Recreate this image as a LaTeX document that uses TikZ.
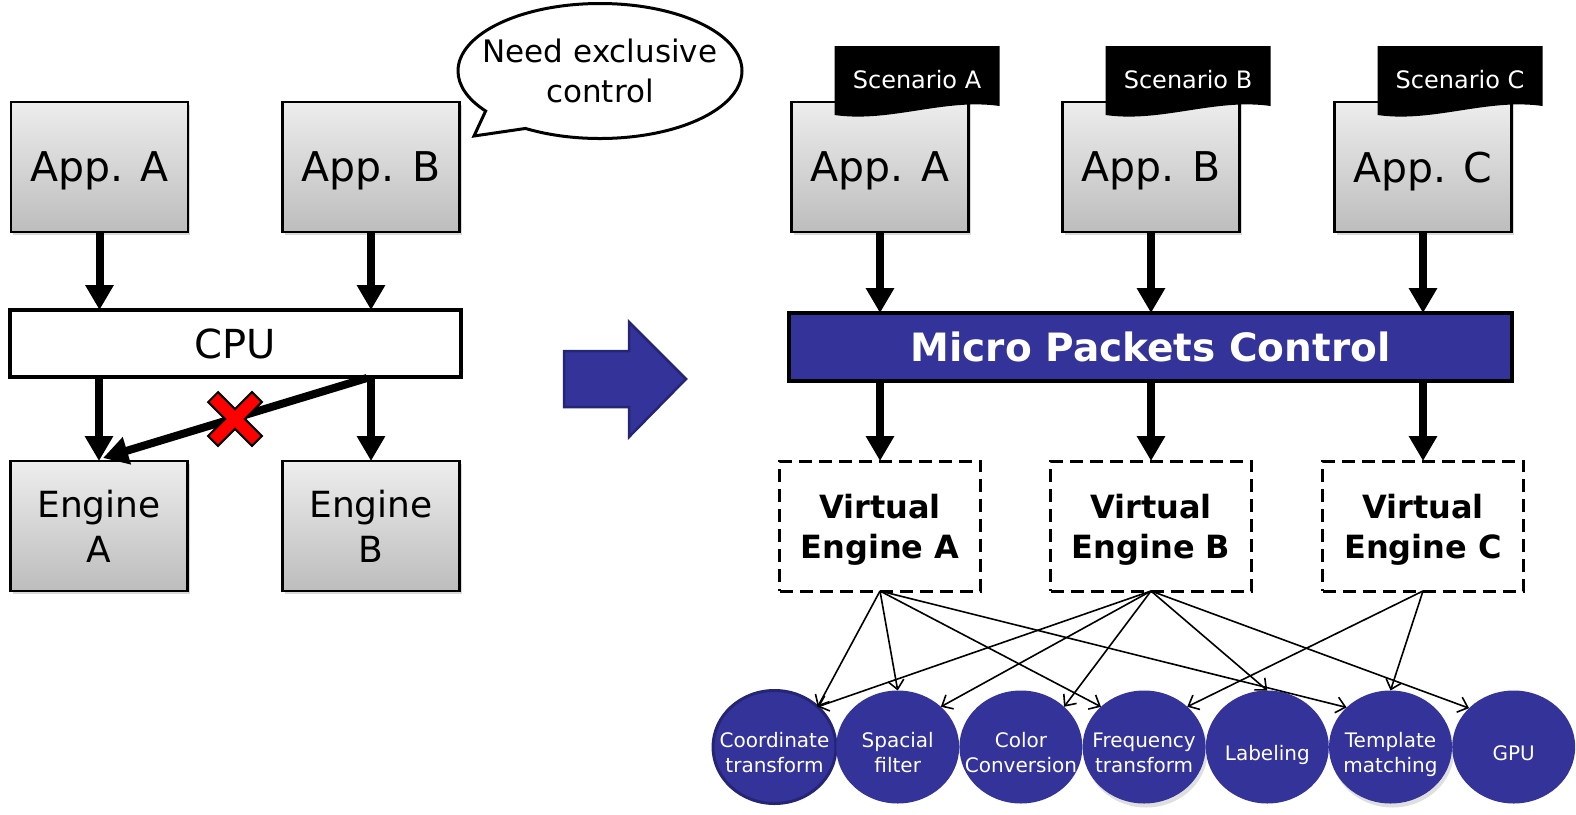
\documentclass[tikz,border=0pt]{standalone}
\usepackage{fontspec}
\setmainfont{DejaVu Sans}
\usetikzlibrary{arrows.meta,shapes.geometric,shapes.callouts,shadows,positioning,calc}

\definecolor{mpblue}{HTML}{333399}
\definecolor{mpdark}{HTML}{252575}

\begin{document}
\begin{tikzpicture}
[
    x = 1pt, y = -1pt,
    every node/.append style = {inner sep = 0pt, outer sep = 0pt, align = center},
    appbox/.style = {draw, line width = 2.5pt, minimum width = 177pt, minimum height = 130pt,
        top color = black!7, bottom color = black!26, text depth = 0pt,
        drop shadow = {shadow xshift = 2pt, shadow yshift = -3pt, opacity = 0.3},
        font = \fontsize{41}{49}\selectfont},
    engbox/.style = {appbox, font = \fontsize{36}{45}\selectfont},
    cpubox/.style = {draw, line width = 3.5pt, fill = white, minimum width = 451pt, minimum height = 67pt,
        font = \fontsize{40}{48}\selectfont},
    mpcbar/.style = {draw, line width = 3.5pt, fill = mpblue, text = white, minimum width = 723pt,
        minimum height = 68pt, font = \bfseries\fontsize{39}{46}\selectfont},
    vbox/.style = {draw, line width = 3pt, dash pattern = on 13pt off 7pt, minimum width = 201pt,
        minimum height = 130pt, text depth = 0pt, font = \bfseries\fontsize{32}{40}\selectfont},
    task/.style = {ellipse, fill = mpblue, text = white, minimum width = 123pt, minimum height = 113pt,
        inner xsep = -22pt, text height = 51pt, text depth = 0pt, font = \fontsize{20}{25}\selectfont},
    oneline/.style = {text height = 26pt},
    tag/.style = {minimum width = 165pt, minimum height = 72pt, text = white, text depth = 6pt,
        font = \fontsize{24}{28}\selectfont,
        path picture = {\fill[black] (path picture bounding box.north west) -- (path picture bounding box.north east)
            -- ([yshift = 12pt]path picture bounding box.south east)
            .. controls ([xshift = -55pt, yshift = 20pt]path picture bounding box.south east)
            and ([xshift = 55pt, yshift = -5pt]path picture bounding box.south west)
            .. ([yshift = 3pt]path picture bounding box.south west) -- cycle;}},
    flow/.style = {line width = 8pt, -{Triangle[length = 25pt, width = 27pt]}},
    link/.style = {line width = 1.6pt, -{Straight Barb[length = 9pt, width = 16pt]}},
    nogood/.style = {fill = red, draw = black, line width = 2pt, line join = miter},
    bigarrow/.style = {fill = mpblue, draw = mpdark, line width = 2.5pt, line join = miter}
]

\useasboundingbox (0,0) rectangle (1576,814);

% before
\node[appbox] (appA) at (99.5,167) {App. A};
\node[appbox] (appB) at (371,167) {App. B};
\node[cpubox] (cpu) at (235.5,343.5) {CPU};
\node[engbox] (engA) at (99,526) {Engine\\A};
\node[engbox] (engB) at (371,526) {Engine\\B};
\node[ellipse callout, draw, line width = 3pt, fill = white, minimum width = 284pt, minimum height = 135pt,
    inner xsep = -22pt, callout absolute pointer = {(474,136)}, callout pointer arc = 22,
    font = \fontsize{31}{40}\selectfont] (need) at (600,71) {Need exclusive\\control};

\draw[flow] (appA.south) -- (appA.south |- cpu.north);
\draw[flow] (appB.south) -- (appB.south |- cpu.north);
\draw[flow] (engA.north |- cpu.south) -- (engA.north);
\draw[flow] (engB.north |- cpu.south) -- (engB.north);
\draw[flow] ($(engB.north |- cpu.south)+(-4,1)$) -- ($(engA.north)+(4,-3)$);

\coordinate (nogo) at ($(engB.north |- cpu.south)!0.5!(engA.north)$);
\draw[nogood, shift = {(nogo)}, rotate = 45] (31,7) -- (7,7) -- (7,31) -- (-7,31) -- (-7,7) -- (-31,7)
    -- (-31,-7) -- (-7,-7) -- (-7,-31) -- (7,-31) -- (7,-7) -- (31,-7) -- cycle;

\draw[bigarrow] (564,351) -- (629,351) -- (629,322) -- (686,379) -- (629,437) -- (629,407) -- (564,407) -- cycle;

% after
\node[appbox] (appRA) at (880,167) {App. A};
\node[appbox] (appRB) at (1151,167) {App. B};
\node[appbox] (appRC) at (1423,167) {App. C};
\node[tag] (scnA) at (917,82) {Scenario A};
\node[tag] (scnB) at (1188,82) {Scenario B};
\node[tag] (scnC) at (1460,82) {Scenario C};
\node[mpcbar] (mpc) at (1150.5,347) {Micro Packets Control};
\node[vbox] (veA) at (880,526) {Virtual\\Engine A};
\node[vbox] (veB) at (1151,526) {Virtual\\Engine B};
\node[vbox] (veC) at (1423,526) {Virtual\\Engine C};

\draw[flow] (appRA.south) -- (appRA.south |- mpc.north);
\draw[flow] (appRB.south) -- (appRB.south |- mpc.north);
\draw[flow] (appRC.south) -- (appRC.south |- mpc.north);
\draw[flow] (veA.north |- mpc.south) -- (veA.north);
\draw[flow] (veB.north |- mpc.south) -- (veB.north);
\draw[flow] (veC.north |- mpc.south) -- (veC.north);

\node[task, draw = mpdark, line width = 3pt] (coord) at (774.5,747) {Coordinate\\transform};
\node[task, right = 0.2pt of coord] (spac) {Spacial\\filter};
\node[task, right = 0.2pt of spac] (colr) {Color\\Conversion};
\node[task, right = 0.2pt of colr, drop shadow = {shadow xshift = 2pt, shadow yshift = -4pt, opacity = 0.25}] (freq) {Frequency\\transform};
\node[task, oneline, right = 0.2pt of freq] (labl) {Labeling};
\node[task, right = 0.2pt of labl, drop shadow = {shadow xshift = 2pt, shadow yshift = -4pt, opacity = 0.25}] (tmpl) {Template\\matching};
\node[task, oneline, right = 0.2pt of tmpl] (gpu) {GPU};

\draw[link] (veA.south) -- (coord.43);
\draw[link] (veA.south) -- (spac.90);
\draw[link] (veA.south) -- (freq.137);
\draw[link] (veA.south) -- (tmpl.138);
\draw[link] (veB.south) -- (coord.43);
\draw[link] (veB.south) -- (spac.43);
\draw[link] (veB.south) -- (colr.43);
\draw[link] (veB.south) -- (labl.90);
\draw[link] (veB.south) -- (gpu.139);
\draw[link] (veC.south) -- (freq.43);
\draw[link] (veC.south) -- (tmpl.90);

\end{tikzpicture}
\end{document}
